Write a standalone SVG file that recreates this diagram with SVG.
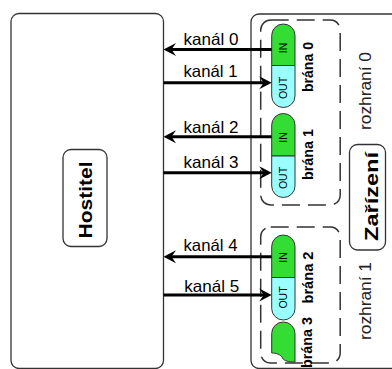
<svg xmlns="http://www.w3.org/2000/svg" width="392" height="369" viewBox="0 0 392 369">
<style>
.box{fill:#fff;stroke:#333;stroke-width:1.3}
.lbl{fill:#fff;stroke:#333;stroke-width:1.3}
.dash{fill:none;stroke:#333;stroke-width:1.5;stroke-dasharray:18 8}
.in{fill:#33dd33;stroke:#333;stroke-width:1}
.out{fill:#99ffff;stroke:#333;stroke-width:1}
.ch{fill:none;stroke:#000;stroke-width:3}
.t{font-family:"Liberation Sans",Arial,sans-serif;fill:#000}
.k{font-size:16.5px}
.b{font-weight:bold}
.s{font-size:10.5px}
.r{font-size:16px;fill:#222}
</style>
<defs>
<marker id="ah" viewBox="0 0 14 14" refX="9" refY="7" markerWidth="14" markerHeight="14" markerUnits="userSpaceOnUse" orient="auto">
<path d="M14,7 L1.5,0.5 L6,7 L1.5,13.5 Z" fill="#000"/>
</marker>
</defs>

<g id="hostitel">
<rect class="box" x="11" y="13.5" width="152.5" height="355" rx="8"/>
<rect class="lbl" x="63" y="149.5" width="44" height="97" rx="8"/>
<text class="t b" font-size="19" text-anchor="middle" textLength="77" lengthAdjust="spacingAndGlyphs" transform="translate(91.5,200) rotate(-90)">Hostitel</text>
</g>

<g id="zarizeni">
<rect class="box" x="251" y="14" width="160" height="354.5" rx="8"/>
<rect class="lbl" x="349.5" y="144.5" width="36" height="105.5" rx="8"/>
<text class="t b" font-size="19" text-anchor="middle" textLength="89" lengthAdjust="spacingAndGlyphs" transform="translate(378.3,196.5) rotate(-90)">Zařízení</text>
</g>

<g id="rozhrani0">
<rect class="dash" x="260.7" y="20" width="79.5" height="185" rx="10"/>
<text class="t r" text-anchor="middle" textLength="78" lengthAdjust="spacingAndGlyphs" transform="translate(370.5,91) rotate(-90)">rozhraní 0</text>
</g>

<g id="rozhrani1">
<rect class="dash" x="260.7" y="227" width="79.5" height="136" rx="10"/>
<text class="t r" text-anchor="middle" textLength="78" lengthAdjust="spacingAndGlyphs" transform="translate(370.5,301) rotate(-90)">rozhraní 1</text>
</g>

<g id="brana0">
<path class="in" d="M271.7,65.5 V35.5 A11.65,11.5 0 0 1 295,35.5 V65.5 Z"/>
<path class="out" d="M271.7,65.5 V96 A11.65,11.5 0 0 0 295,96 V65.5 Z"/>
<text class="t s" text-anchor="middle" transform="translate(287,48) rotate(-90)">IN</text>
<text class="t s" text-anchor="middle" transform="translate(287,88) rotate(-90)">OUT</text>
<text class="t b" font-size="14.5" text-anchor="middle" textLength="50" lengthAdjust="spacingAndGlyphs" transform="translate(313,67) rotate(-90)">brána 0</text>
</g>

<g id="brana1">
<path class="in" d="M271.7,156 V125 A11.65,11.5 0 0 1 295,125 V156 Z"/>
<path class="out" d="M271.7,156 V186 A11.65,11.5 0 0 0 295,186 V156 Z"/>
<text class="t s" text-anchor="middle" transform="translate(287,137.5) rotate(-90)">IN</text>
<text class="t s" text-anchor="middle" transform="translate(287,178) rotate(-90)">OUT</text>
<text class="t b" font-size="14.5" text-anchor="middle" textLength="51" lengthAdjust="spacingAndGlyphs" transform="translate(313,154.5) rotate(-90)">brána 1</text>
</g>

<g id="brana2">
<path class="in" d="M271.7,277.5 V246.5 A11.65,11.5 0 0 1 295,246.5 V277.5 Z"/>
<path class="out" d="M271.7,277.5 V308.5 A11.65,11.5 0 0 0 295,308.5 V277.5 Z"/>
<text class="t s" text-anchor="middle" transform="translate(287,257.5) rotate(-90)">IN</text>
<text class="t s" text-anchor="middle" transform="translate(287,297.5) rotate(-90)">OUT</text>
<text class="t b" font-size="14.5" text-anchor="middle" textLength="52" lengthAdjust="spacingAndGlyphs" transform="translate(313,277.5) rotate(-90)">brána 2</text>
</g>

<g id="brana3">
<path class="in" d="M271.7,353 V333.5 A11.65,11.5 0 0 1 295,333.5 V362 C289,362 284,361 282.5,358 C281,354.5 276,353 271.7,353 Z"/>
<text class="t b" font-size="14.5" text-anchor="middle" textLength="51" lengthAdjust="spacingAndGlyphs" transform="translate(312,342.5) rotate(-90)">brána 3</text>
</g>

<g id="connectors">
<line class="ch" x1="271.7" y1="49.5" x2="168.5" y2="49.5" marker-end="url(#ah)"/>
<line class="ch" x1="163.5" y1="82.7" x2="266.7" y2="82.7" marker-end="url(#ah)"/>
<line class="ch" x1="271.7" y1="136.7" x2="168.5" y2="136.7" marker-end="url(#ah)"/>
<line class="ch" x1="163.5" y1="172.7" x2="266.7" y2="172.7" marker-end="url(#ah)"/>
<line class="ch" x1="271.7" y1="256.7" x2="168.5" y2="256.7" marker-end="url(#ah)"/>
<line class="ch" x1="163.5" y1="295" x2="266.7" y2="295" marker-end="url(#ah)"/>
<text class="t k" x="183.5" y="45" textLength="55" lengthAdjust="spacingAndGlyphs">kanál 0</text>
<text class="t k" x="183.5" y="77" textLength="54" lengthAdjust="spacingAndGlyphs">kanál 1</text>
<text class="t k" x="183.5" y="133" textLength="55" lengthAdjust="spacingAndGlyphs">kanál 2</text>
<text class="t k" x="183.5" y="167.5" textLength="55" lengthAdjust="spacingAndGlyphs">kanál 3</text>
<text class="t k" x="183.5" y="251" textLength="54" lengthAdjust="spacingAndGlyphs">kanál 4</text>
<text class="t k" x="184.3" y="291.5" textLength="55" lengthAdjust="spacingAndGlyphs">kanál 5</text>
</g>
</svg>
